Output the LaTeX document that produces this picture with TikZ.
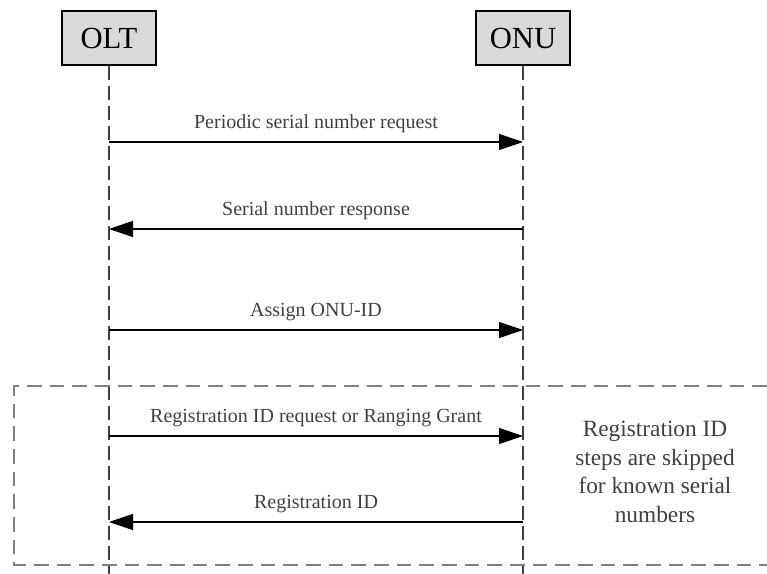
\documentclass[tikz,border=0pt]{standalone}
\usepackage{fontspec}
\setmainfont{Liberation Serif}
\usetikzlibrary{arrows.meta,positioning}
\definecolor{boxGray}{gray}{0.85}
\definecolor{txtGray}{gray}{0.25}
\definecolor{frameGray}{gray}{0.5}
\tikzset{
    actor/.style={draw, line width=1.4pt, fill=boxGray, minimum width=71pt, minimum height=41pt, inner sep=0pt, font=\fontsize{23}{23}\selectfont},
    lifeline/.style={line width=0.8pt, txtGray, dash pattern=on 10pt off 5pt},
    msg/.style={-{Triangle[length=18pt,width=12pt]}, line width=0.9pt},
    msg label/.style={above=3pt, text=txtGray, font=\fontsize{15}{15}\selectfont},
    skip frame/.style={line width=1.7pt, frameGray, dash pattern=on 11pt off 6pt}
}

\begin{document}
\begin{tikzpicture}[x=0.75pt,y=-0.75pt]
\useasboundingbox (0,0) rectangle (767,574);
% actors
\node[actor] (olt) at (109,38) {OLT};
\node[actor] (onu) at (523,38) {ONU};
\coordinate (oltEnd) at (109,574);
\coordinate (onuEnd) at (523,574);
\draw[lifeline] (olt.south) -- (oltEnd);
\draw[lifeline] (onu.south) -- (onuEnd);
% message end points
\coordinate (olt1) at (109,142); \coordinate (onu1) at (523,142);
\coordinate (olt2) at (109,229); \coordinate (onu2) at (523,229);
\coordinate (olt3) at (109,330); \coordinate (onu3) at (523,330);
\coordinate (olt4) at (109,436); \coordinate (onu4) at (523,436);
\coordinate (olt5) at (109,522); \coordinate (onu5) at (523,522);
% registration frame
\coordinate (frTR) at (767,386); \coordinate (frTL) at (14,386);
\coordinate (frBL) at (14,565);  \coordinate (frBR) at (767,565);
\draw[skip frame] (frTR) -- (frTL) -- (frBL) -- (frBR);
% messages
\draw[msg] (olt1) -- node[msg label] {Periodic serial number request} (onu1);
\draw[msg] (onu2) -- node[msg label] {Serial number response} (olt2);
\draw[msg] (olt3) -- node[msg label] {Assign ONU-ID} (onu3);
\draw[msg] (olt4) -- node[msg label] {Registration ID request or Ranging Grant} (onu4);
\draw[msg] (onu5) -- node[msg label] {Registration ID} (olt5);
% note
\node[align=center, text=txtGray, font=\fontsize{17.5}{21.5}\selectfont] (note) at (655,472)
    {Registration ID\\steps are skipped\\for known serial\\numbers};
\end{tikzpicture}
\end{document}
